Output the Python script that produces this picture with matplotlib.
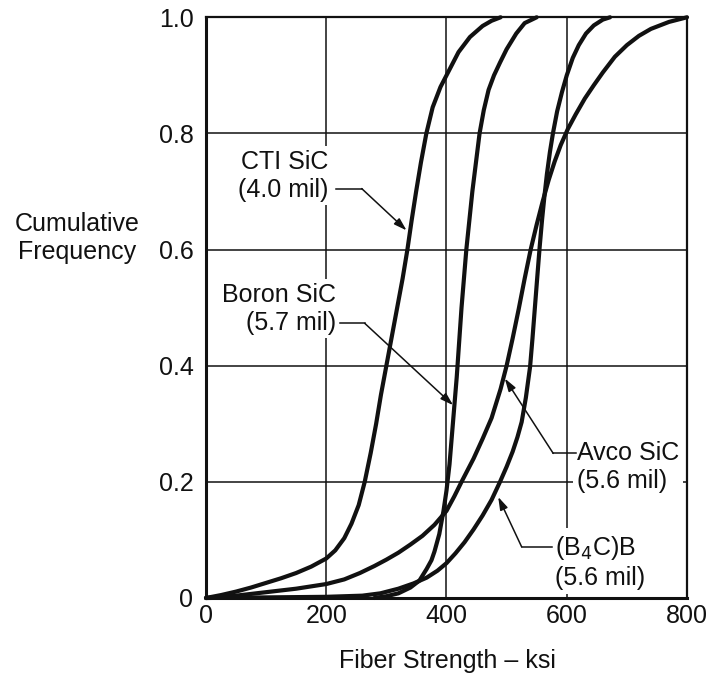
import matplotlib.pyplot as plt

plt.rcParams['font.family'] = ['Liberation Sans', 'DejaVu Sans']

# fiber strength (ksi) against cumulative frequency, one pair per fiber
cti_ksi = [0, 25, 50, 75, 100, 125, 150, 175, 200, 215, 230, 242, 254, 264,
           274, 283, 291, 300, 309, 318, 327, 335, 342, 349.5, 357.5, 366.5,
           377, 390, 405, 420, 439, 460, 475, 490]
cti_freq = [0, 0.005, 0.011, 0.018, 0.026, 0.034, 0.043, 0.054, 0.068, 0.082,
            0.103, 0.128, 0.16, 0.2, 0.25, 0.30, 0.35, 0.4, 0.45, 0.5, 0.55,
            0.6, 0.65, 0.7, 0.75, 0.8, 0.845, 0.88, 0.91, 0.94, 0.966, 0.985,
            0.994, 1.0]

boron_ksi = [280, 300, 320, 340, 355, 367, 375, 380, 388, 395, 400, 405, 409,
             413, 417, 421, 425, 429, 433, 438, 443, 449, 455, 462, 470, 479,
             489, 500, 516, 530, 550]
boron_freq = [0, 0.003, 0.008, 0.018, 0.03, 0.05, 0.065, 0.08, 0.11, 0.15,
              0.185, 0.23, 0.28, 0.33, 0.38, 0.44, 0.5, 0.55, 0.6, 0.65, 0.7,
              0.75, 0.8, 0.84, 0.875, 0.9, 0.922, 0.945, 0.972, 0.99, 1.0]

avco_ksi = [0, 50, 100, 150, 200, 230, 256, 280, 300, 320, 340, 360, 380, 400,
            413, 425, 445, 460, 475, 490, 500, 510, 520, 530, 540, 550, 560,
            570, 580, 590, 602, 615, 630, 645, 660, 680, 700, 720, 740, 770,
            800]
avco_freq = [0, 0.004, 0.010, 0.016, 0.024, 0.032, 0.043, 0.055, 0.066, 0.078,
             0.092, 0.107, 0.126, 0.15, 0.175, 0.2, 0.24, 0.274, 0.31, 0.36,
             0.4, 0.447, 0.497, 0.55, 0.6, 0.643, 0.683, 0.72, 0.752, 0.78,
             0.808, 0.833, 0.86, 0.883, 0.905, 0.932, 0.952, 0.968, 0.98,
             0.992, 1.0]

b4cb_ksi = [0, 100, 200, 260, 290, 320, 345, 367, 385, 400, 415, 430, 445, 460,
            475, 489, 500, 510, 518, 525, 532, 539, 543, 547, 551, 555, 559,
            563, 567, 572, 577, 584, 592, 600, 610, 620, 632, 645, 660, 672]
b4cb_freq = [0, 0.001, 0.002, 0.004, 0.008, 0.016, 0.025, 0.035, 0.047, 0.06,
             0.077, 0.096, 0.118, 0.142, 0.169, 0.2, 0.226, 0.252, 0.277,
             0.303, 0.345, 0.398, 0.447, 0.5, 0.553, 0.605, 0.652, 0.693, 0.73,
             0.768, 0.8, 0.838, 0.871, 0.9, 0.93, 0.952, 0.972, 0.986, 0.996,
             1.0]

x_ticks = [0, 200, 400, 600, 800]
y_ticks = [0, 0.2, 0.4, 0.6, 0.8, 1.0]
y_tick_labels = ['0', '0.2', '0.4', '0.6', '0.8', '1.0']

ink = '#111111'
fs = 18

fig = plt.figure(figsize=(7.12, 6.75), dpi=100)
ax = fig.add_axes([0.2893, 0.1141, 0.6756, 0.8603])

for xs, ys in [(cti_ksi, cti_freq), (boron_ksi, boron_freq),
               (avco_ksi, avco_freq), (b4cb_ksi, b4cb_freq)]:
    ax.plot(xs, ys, color=ink, lw=3.0, solid_capstyle='round',
            solid_joinstyle='round', clip_on=False, zorder=4)

ax.set_xlim(0, 800)
ax.set_ylim(0, 1)
ax.set_xticks(x_ticks)
ax.set_xticklabels([str(v) for v in x_ticks])
ax.set_yticks(y_ticks)
ax.set_yticklabels(y_tick_labels)
ax.grid(True, color=ink, lw=1.1, zorder=1)
ax.set_axisbelow(True)
ax.tick_params(axis='both', length=0, labelsize=fs, colors=ink)
ax.tick_params(axis='x', pad=4)
ax.tick_params(axis='y', pad=9)
for side, w in [('left', 2.2), ('bottom', 2.2), ('top', 1.6), ('right', 1.6)]:
    ax.spines[side].set_linewidth(w)
    ax.spines[side].set_color(ink)

# curve labels: text, leader elbow and arrow tip on the curve
labels = [
    ('CTI SiC\n(4.0 mil)', (203, 0.727), 'right', (217, 259, 0.705), (333.6, 0.633)),
    ('Boron SiC\n(5.7 mil)', (217, 0.498), 'right', (223, 264, 0.473), (411, 0.332)),
    ('Avco SiC\n(5.6 mil)', (617, 0.226), 'left', (616, 577.5, 0.249), (497, 0.378)),
    ('(B$_4$C)B\n(5.6 mil)', (580, 0.062), 'left', (575, 525, 0.088), (486, 0.174)),
]
for text, pos, ha, (x0, x1, yl), tip in labels:
    ax.text(pos[0], pos[1], text, ha=ha, va='center', multialignment=ha,
            fontsize=fs, color=ink, zorder=3,
            bbox=dict(boxstyle='square,pad=0.15', fc='white', ec='none'))
    ax.plot([x0, x1], [yl, yl], color=ink, lw=1.1, zorder=5)
    ax.annotate('', xy=tip, xytext=(x1, yl),
                arrowprops=dict(arrowstyle='-|>,head_length=0.7,head_width=0.22',
                                color=ink, lw=1.1, shrinkA=0, shrinkB=0,
                                mutation_scale=11),
                zorder=5)

fig.text(77 / 712, 1 - 238 / 675, 'Cumulative\nFrequency', ha='center',
         va='center', multialignment='center', fontsize=fs, color=ink)
fig.text(447 / 712, 1 - 661 / 675, 'Fiber Strength \u2013 ksi', ha='center',
         va='center', fontsize=fs, color=ink)

fig.savefig('out.png', dpi=100, facecolor='white')
